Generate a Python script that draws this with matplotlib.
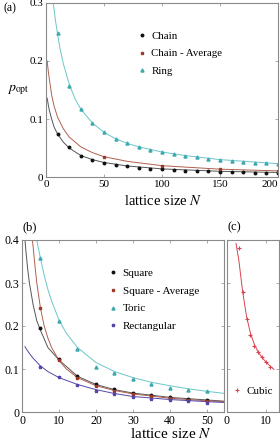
import numpy as np
import matplotlib
matplotlib.use("Agg")
import matplotlib.pyplot as plt

plt.rcParams['font.family'] = ['Liberation Serif', 'DejaVu Serif']
plt.rcParams['mathtext.fontset'] = 'stix'

# ---- panel (a) data ----
N_a = [10, 20, 30, 40, 50, 60, 70, 80, 90, 100, 110, 120, 130, 140, 150, 160, 170, 180, 190, 200]
chain = [0.074, 0.051, 0.037, 0.029, 0.024, 0.021, 0.019, 0.016, 0.0145, 0.013,
         0.012, 0.011, 0.010, 0.0095, 0.009, 0.0085, 0.008, 0.0075, 0.007, 0.0065]
ring = [0.248, 0.157, 0.117, 0.0925, 0.077, 0.066, 0.0586, 0.052, 0.0466, 0.0425,
        0.039, 0.0368, 0.034, 0.0316, 0.0299, 0.0282, 0.0264, 0.0247, 0.0236, 0.0224]
N_avg = [50, 100, 150, 200]
chain_avg = [0.035, 0.0195, 0.013, 0.0103]

# fitted curves
Nc_a = [1, 2, 3, 5, 7, 10, 15, 20, 30, 40, 50, 70, 100, 150, 200]
chain_fit = [0.136, 0.124, 0.114, 0.099, 0.086, 0.074, 0.060, 0.050, 0.037, 0.030,
             0.025, 0.019, 0.014, 0.0098, 0.0078]
chain_avg_fit = [0.200, 0.182, 0.167, 0.140, 0.122, 0.103, 0.083, 0.069, 0.052, 0.042,
                 0.035, 0.027, 0.0195, 0.0135, 0.0105]
Nr_a = [6.3, 8, 10, 12, 15, 20, 25, 30, 40, 50, 60, 70, 80, 100, 120, 150, 200]
ring_fit = [0.300, 0.272, 0.246, 0.222, 0.195, 0.160, 0.135, 0.117, 0.093, 0.077,
            0.066, 0.058, 0.052, 0.043, 0.037, 0.030, 0.023]

# ---- panel (b) data ----
N_b = [5, 10, 15, 20, 25, 30, 35, 40, 45, 50]
square = [0.196, 0.1225, 0.0837, 0.0643, 0.0527, 0.045, 0.0395, 0.034, 0.030, 0.027]
square_avg = [0.241, 0.120, 0.080, 0.061, 0.050, 0.0426, 0.037, 0.032, 0.029, 0.025]
toric = [0.357, 0.212, 0.146, 0.104, 0.090, 0.0775, 0.0643, 0.055, 0.0504, 0.049]
rect = [0.105, 0.081, 0.0636, 0.0496, 0.041, 0.035, 0.030, 0.027, 0.025, 0.022]

Ns_fit = [0.8, 1, 1.5, 2, 3, 4, 5, 7, 10, 15, 20, 25, 30, 40, 50, 55]
square_fit = [0.40, 0.38, 0.335, 0.30, 0.25, 0.212, 0.190, 0.150, 0.121, 0.083,
              0.064, 0.052, 0.044, 0.034, 0.028, 0.025]
Nsa_fit = [2.8, 3, 3.5, 4, 5, 6, 7, 8, 10, 12, 15, 20, 25, 30, 40, 50, 55]
square_avg_fit = [0.40, 0.385, 0.34, 0.30, 0.241, 0.200, 0.172, 0.150, 0.120, 0.100,
                  0.080, 0.061, 0.050, 0.042, 0.032, 0.026, 0.024]
Nt_fit = [4, 4.5, 5, 6, 7, 8, 10, 12, 15, 20, 25, 30, 35, 40, 45, 50, 55]
toric_fit = [0.40, 0.378, 0.357, 0.318, 0.285, 0.258, 0.214, 0.183, 0.150, 0.115,
             0.094, 0.080, 0.069, 0.061, 0.054, 0.048, 0.043]
Nr_fit = [0.8, 1, 2, 3, 5, 7, 10, 15, 20, 25, 30, 40, 50, 55]
rect_fit = [0.152, 0.149, 0.136, 0.125, 0.107, 0.094, 0.080, 0.064, 0.052, 0.043,
            0.036, 0.029, 0.024, 0.022]

# ---- panel (c) data ----
N_c = [3, 4, 5, 6, 7, 8, 9, 10, 11]
cubic = [0.382, 0.278, 0.216, 0.178, 0.153, 0.139, 0.129, 0.117, 0.105]
Nc_fit = [2.3, 3, 4, 5, 6, 7, 8, 9, 10, 11, 12]
cubic_fit = [0.392, 0.355, 0.280, 0.222, 0.183, 0.157, 0.139, 0.126, 0.116, 0.107, 0.099]

c_black = '#111111'
c_gray = '#555555'
c_brown = '#9b3a2a'
c_brown_l = '#b0604f'
c_teal = '#3fa9b0'
c_teal_l = '#6cc6c9'
c_purple = '#5547a8'
c_red = '#d9434f'


def style(ax, size):
    for s in ax.spines.values():
        s.set_color('#8a8a8a')
        s.set_linewidth(0.8)
    ax.tick_params(direction='in', length=2, width=0.5, color='#8a8a8a',
                   labelsize=size, top=True, right=True, pad=2)


def fmt(v):
    return '0' if v == 0 else f'{v:g}'


fig = plt.figure(figsize=(2.8, 4.4), dpi=100)

# panel (a)
ax = fig.add_axes([46 / 280, 1 - 177 / 440, 232 / 280, 174 / 440])
ax.plot(Nc_a, chain_fit, color=c_gray, lw=0.7)
ax.plot(Nc_a, chain_avg_fit, color=c_brown_l, lw=0.7)
ax.plot(Nr_a, ring_fit, color=c_teal_l, lw=0.7)
ax.plot(N_a, chain, 'o', color=c_black, ms=1.8, label='Chain')
ax.plot(N_avg, chain_avg, 's', color=c_brown, ms=1.7, label='Chain - Average')
ax.plot(N_a, ring, '^', color=c_teal, ms=2.2, label='Ring')
ax.set_xlim(0, 200)
ax.set_ylim(0, 0.3)
ax.set_xticks([0, 50, 100, 150, 200])
ax.set_yticks([0, 0.1, 0.2, 0.3])
ax.set_yticklabels([fmt(v) for v in [0, 0.1, 0.2, 0.3]])
style(ax, 8)
ax.get_xticklabels()[-1].set_ha('right')
ax.legend(loc='upper left', bbox_to_anchor=(0.38, 0.86), frameon=False, fontsize=7.8,
          handlelength=0.6, handletextpad=0.6, labelspacing=0.7, borderaxespad=0)
fig.text(163 / 280, 1 - 201 / 440, r'lattice size $N$', ha='center', va='center', fontsize=10.5)
fig.text(18 / 280, 1 - 90 / 440, r'$p_{\mathrm{opt}}$', ha='center', va='center', fontsize=10)
fig.text(10 / 280, 1 - 8 / 440, '(a)', ha='center', va='center', fontsize=8.5)

# panel (b)
bx = fig.add_axes([22 / 280, 28 / 440, 202 / 280, 172 / 440])
bx.plot(Ns_fit, square_fit, color=c_gray, lw=0.7)
bx.plot(Nsa_fit, square_avg_fit, color=c_brown_l, lw=0.7)
bx.plot(Nt_fit, toric_fit, color=c_teal_l, lw=0.7)
bx.plot(Nr_fit, rect_fit, color=c_purple, lw=0.7)
bx.plot(N_b, square, 'o', color=c_black, ms=1.8, label='Square')
bx.plot(N_b, square_avg, 's', color=c_brown, ms=1.7, label='Square - Average')
bx.plot(N_b, toric, '^', color=c_teal, ms=2.2, label='Toric')
bx.plot(N_b, rect, '*', color=c_purple, ms=2.4, label='Rectangular')
bx.set_xlim(0, 54.6)
bx.set_ylim(0, 0.4)
bx.set_xticks([0, 10, 20, 30, 40, 50])
bx.set_yticks([0, 0.1, 0.2, 0.3, 0.4])
bx.set_yticklabels([fmt(v) for v in [0, 0.1, 0.2, 0.3, 0.4]])
style(bx, 8.5)
bx.legend(loc='upper left', bbox_to_anchor=(0.41, 0.86), frameon=False, fontsize=8,
          handlelength=0.6, handletextpad=0.6, labelspacing=0.7, borderaxespad=0)
fig.text(171 / 280, 1 - 438 / 440, r'lattice size $N$', ha='center', va='baseline', fontsize=11)
fig.text(30 / 280, 1 - 227 / 440, '(b)', ha='center', va='center', fontsize=9)

# panel (c)
cx = fig.add_axes([227 / 280, 28 / 440, 52 / 280, 172 / 440])
cx.plot(Nc_fit, cubic_fit, color=c_red, lw=0.7)
cx.plot(N_c, cubic, '+', color=c_red, ms=3, mew=0.8, label='Cubic')
cx.set_xlim(0, 13.3)
cx.set_ylim(0, 0.4)
cx.set_xticks([0, 10])
cx.set_yticks([0, 0.1, 0.2, 0.3, 0.4])
cx.set_yticklabels([])
style(cx, 8.5)
cx.legend(loc='lower left', bbox_to_anchor=(0.05, 0.07), frameon=False, fontsize=8,
          handlelength=0.6, handletextpad=0.5, borderaxespad=0)
fig.text(234 / 280, 1 - 227 / 440, '(c)', ha='center', va='center', fontsize=9)

fig.savefig('out.png', dpi=100)
